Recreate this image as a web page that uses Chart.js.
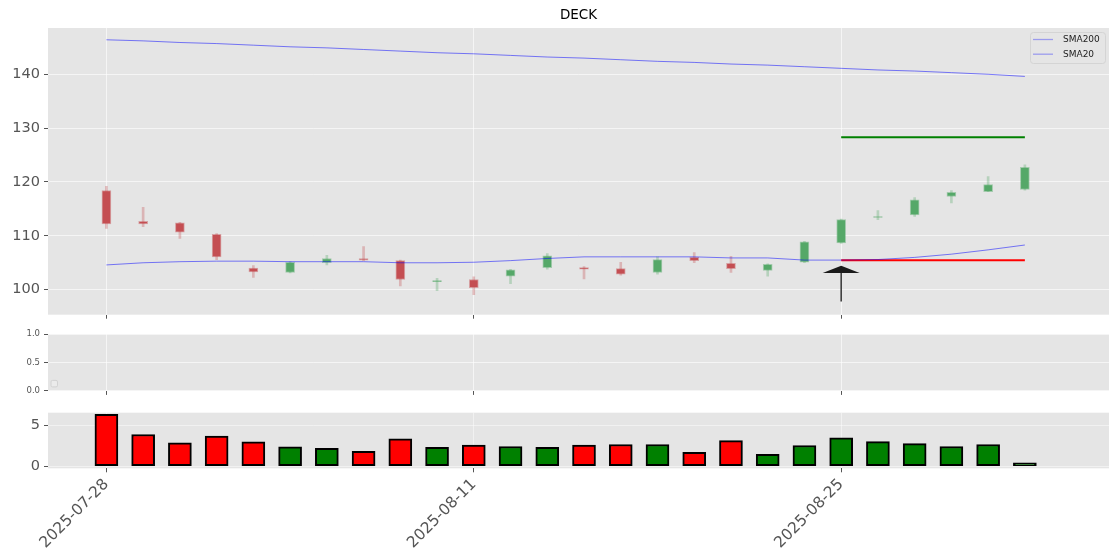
<!DOCTYPE html>
<html><head><meta charset="utf-8">
<script src="https://cdn.jsdelivr.net/npm/chart.js@4.4.1/dist/chart.umd.min.js"></script>
<style>
html,body{margin:0;padding:0;background:#fff;width:1120px;height:560px;overflow:hidden;}
canvas{position:absolute;left:0;}
</style></head><body>
<canvas id="main" width="1120" height="330" style="top:0px"></canvas>
<canvas id="mid" width="1120" height="75" style="top:325px"></canvas>
<canvas id="vol" width="1120" height="160" style="top:400px"></canvas>
<script>
const titleText = 'DECK';
const dates = ['2025-07-28','2025-07-29','2025-07-30','2025-07-31','2025-08-01','2025-08-04','2025-08-05','2025-08-06','2025-08-07','2025-08-08','2025-08-11','2025-08-12','2025-08-13','2025-08-14','2025-08-15','2025-08-18','2025-08-19','2025-08-20','2025-08-21','2025-08-22','2025-08-25','2025-08-26','2025-08-27','2025-08-28','2025-08-29','2025-09-02'];
const openP  = [118.4,112.7,112.4,110.3,104.0,103.2,105.0,105.8,105.4,101.5,101.9,102.5,104.1,104.1,103.9,103.2,106.0,104.9,103.6,105.1,108.7,113.4,113.9,117.3,118.2,118.6];
const highP  = [119.2,115.3,112.5,110.4,104.5,105.2,106.4,108.0,105.5,102.1,102.4,103.8,106.7,104.3,105.1,106.1,106.9,106.2,104.8,109.0,113.1,114.7,117.1,118.4,121.0,123.2];
const lowP   = [111.4,111.7,109.5,105.6,102.3,103.1,104.6,105.4,100.7,99.8,99.1,101.1,103.8,102.0,102.7,102.9,105.0,103.2,102.5,105.0,108.6,113.0,113.6,116.1,118.2,118.5];
const closeP = [112.2,112.2,110.7,106.1,103.3,105.1,105.8,105.5,101.9,101.7,100.4,103.7,106.3,103.8,102.9,105.6,105.4,103.9,104.7,108.9,113.0,113.6,116.7,118.1,119.5,122.7];
const sma200 = [146.4,146.2,145.9,145.7,145.4,145.1,144.9,144.6,144.3,144.0,143.8,143.5,143.2,143.0,142.7,142.4,142.2,141.9,141.7,141.4,141.1,140.8,140.6,140.3,140.0,139.6];
const sma20  = [104.6,105.0,105.2,105.3,105.3,105.2,105.2,105.2,105.0,105.0,105.1,105.4,105.8,106.1,106.1,106.1,106.1,105.9,105.9,105.5,105.5,105.6,106.0,106.6,107.4,108.3];
const volume = [6.39,3.89,2.86,3.69,2.98,2.38,2.18,1.82,3.37,2.30,2.58,2.42,2.30,2.58,2.66,2.66,1.70,3.13,1.46,2.54,3.49,3.01,2.77,2.42,2.66,0.39];
const targetLevel = 128.3;
const stopLevel = 105.45;
const signalStart = 20;
const signalEnd = 25;
const arrowIdx = 20;
const arrowTip = 104.45;
const arrowTail = 97.8;
const xTickIdx = [0,10,20];
const mainTicks = [100,110,120,130,140];
const midTicks = [0,0.5,1];
const volTicks = [0,5];

const FONT = 'DejaVu Sans';
const X_MIN = -1.59, X_MAX = 27.29;
const GRID = 'rgba(255,255,255,0.6)';
const up = openP.map((o,i)=>closeP[i] >= o);

function xScale(showLabels, height, gridColor){
  return {
    type:'linear', min:X_MIN, max:X_MAX, offset:false,
    afterBuildTicks: ax => { ax.ticks = xTickIdx.map(v=>({value:v})); },
    afterFit: ax => { ax.height = height; },
    grid:{offset:false, color:gridColor, lineWidth:1, tickColor:'#555', tickLength:4, drawTicks:true},
    border:{display:false},
    ticks:{display:showLabels, autoSkip:false, maxRotation:45, minRotation:45, color:'#555',
      font:{family:FONT, size:15.5}, padding:3, callback:(v)=> (dates[v] !== undefined ? dates[v] : '')}
  };
}
function yScale(min,max,ticks,fontSize,gridColor,fmt){
  return {
    type:'linear', min, max,
    afterBuildTicks: ax => { ax.ticks = ticks.map(v=>({value:v})); },
    afterFit: ax => { ax.width = 48; },
    grid:{color:gridColor, lineWidth:1, tickColor:'#555', tickLength:4, drawTicks:true},
    border:{display:false},
    ticks:{color:'#555', font:{family:FONT, size:fontSize}, padding:4, callback:fmt}
  };
}
const bgPlugin = {id:'bg', beforeDraw(c){
  const a=c.chartArea, ctx=c.ctx; ctx.save(); ctx.fillStyle='#e5e5e5';
  ctx.fillRect(a.left,a.top,a.right-a.left,a.bottom-a.top); ctx.restore();
}};
function roundRect(ctx,x,y,w,h,r){
  ctx.beginPath(); ctx.moveTo(x+r,y); ctx.lineTo(x+w-r,y); ctx.arcTo(x+w,y,x+w,y+r,r);
  ctx.lineTo(x+w,y+h-r); ctx.arcTo(x+w,y+h,x+w-r,y+h,r); ctx.lineTo(x+r,y+h);
  ctx.arcTo(x,y+h,x,y+h-r,r); ctx.lineTo(x,y+r); ctx.arcTo(x,y,x+r,y,r); ctx.closePath();
}
const legendPlugin = {id:'smaLegend', afterDraw(c){
  const a=c.chartArea, ctx=c.ctx;
  const items = c.data.datasets.filter(d=>d.inLegend);
  const x1=a.right-79, y1=a.top+4, w=75, h=31;
  ctx.save();
  roundRect(ctx,x1+0.5,y1+0.5,w,h,3);
  ctx.fillStyle='rgba(229,229,229,0.8)'; ctx.fill();
  ctx.strokeStyle='#d4d4d4'; ctx.lineWidth=1; ctx.stroke();
  items.forEach((d,k)=>{
    const yy = y1+7.5+k*14.7;
    ctx.strokeStyle=d.legendColor; ctx.lineWidth=1.3;
    ctx.beginPath(); ctx.moveTo(x1+3,yy); ctx.lineTo(x1+23,yy); ctx.stroke();
    ctx.fillStyle='#222'; ctx.font='9px "'+FONT+'"'; ctx.textBaseline='middle'; ctx.textAlign='left';
    ctx.fillText(d.label, x1+33, yy);
  });
  ctx.restore();
}};
const arrowPlugin = {id:'arrow', afterDatasetsDraw(c){
  const xs=c.scales.x, ys=c.scales.y, ctx=c.ctx;
  const x=xs.getPixelForValue(arrowIdx), yt=ys.getPixelForValue(arrowTip), yb=ys.getPixelForValue(arrowTail);
  ctx.save();
  ctx.strokeStyle='#333'; ctx.lineWidth=1.5;
  ctx.beginPath(); ctx.moveTo(x,yt+6); ctx.lineTo(x,yb); ctx.stroke();
  ctx.fillStyle='#1a1a1a';
  ctx.beginPath(); ctx.moveTo(x,yt); ctx.lineTo(x+18.5,yt+7.3); ctx.lineTo(x-18.5,yt+7.3); ctx.closePath(); ctx.fill();
  ctx.restore();
}};
const emptyLegendPlugin = {id:'emptyLegend', afterDraw(c){
  const a=c.chartArea, ctx=c.ctx; ctx.save();
  roundRect(ctx,a.left+3,a.bottom-10.5,6.5,6.5,1.5);
  ctx.fillStyle='rgba(235,235,235,0.9)'; ctx.fill(); ctx.strokeStyle='#d2d2d2'; ctx.lineWidth=1; ctx.stroke();
  ctx.restore();
}};

const common = {responsive:false, animation:false, devicePixelRatio:1,
  plugins:{legend:{display:false}, tooltip:{enabled:false}}};

new Chart(document.getElementById('main'), {
  type:'bar',
  data:{datasets:[
    {type:'bar', label:'wick', data:lowP.map((l,i)=>({x:i,y:[l,highP[i]]})),
      backgroundColor:up.map(u=>u?'rgba(85,168,104,0.32)':'rgba(196,78,82,0.32)'),
      barThickness:2, grouped:false, order:6},
    {type:'bar', label:'body', data:openP.map((o,i)=>({x:i,y:[o,closeP[i]]})),
      backgroundColor:up.map(u=>u?'#55a868':'#c44e52'),
      borderColor:up.map(u=>u?'rgba(85,168,104,0.45)':'rgba(196,78,82,0.45)'),
      borderWidth:1, borderSkipped:false, barThickness:9, grouped:false, order:5},
    {type:'line', label:'SMA200', inLegend:true, legendColor:'rgba(0,0,255,0.32)',
      data:sma200.map((v,i)=>({x:i,y:v})), borderColor:'rgba(0,0,255,0.5)', borderWidth:1, pointRadius:0, order:2},
    {type:'line', label:'SMA20', inLegend:true, legendColor:'rgba(0,0,255,0.32)',
      data:sma20.map((v,i)=>({x:i,y:v})), borderColor:'rgba(0,0,255,0.5)', borderWidth:1, pointRadius:0, order:1},
    {type:'line', label:'target', data:[{x:signalStart,y:targetLevel},{x:signalEnd,y:targetLevel}],
      borderColor:'#008000', borderWidth:2, pointRadius:0, order:3},
    {type:'line', label:'stop', data:[{x:signalStart,y:stopLevel},{x:signalEnd,y:stopLevel}],
      borderColor:'#ff0000', borderWidth:2, pointRadius:0, order:3}
  ]},
  options:Object.assign({}, common, {
    layout:{padding:{top:0,right:11,left:0,bottom:0}},
    plugins:{legend:{display:false}, tooltip:{enabled:false},
      title:{display:true, text:titleText, fullSize:false, color:'#000',
        font:{family:FONT, size:13.5, weight:'normal'}, padding:{top:7.8,bottom:4}}},
    scales:{
      x:xScale(false, 15.3, GRID),
      y:yScale(95.36,148.59,mainTicks,14.5,GRID,v=>String(v))
    }
  }),
  plugins:[bgPlugin, arrowPlugin, legendPlugin]
});

new Chart(document.getElementById('mid'), {
  type:'line',
  data:{datasets:[]},
  options:Object.assign({}, common, {
    layout:{padding:{top:9,right:11,left:0,bottom:0}},
    scales:{
      x:xScale(false, 8, GRID),
      y:yScale(0,1,midTicks,8.5,GRID,v=>Number(v).toFixed(1))
    }
  }),
  plugins:[bgPlugin, emptyLegendPlugin]
});

new Chart(document.getElementById('vol'), {
  type:'bar',
  data:{datasets:[
    {type:'bar', label:'Volume', data:volume.map((v,i)=>({x:i,y:v})),
      backgroundColor:up.map(u=>u?'#008000':'#ff0000'), borderColor:'#000', borderWidth:2,
      borderSkipped:false, barThickness:23, grouped:false}
  ]},
  options:Object.assign({}, common, {
    layout:{padding:{top:10.7,right:11,left:0,bottom:0}},
    scales:{
      x:xScale(true, 91.7, 'rgba(255,255,255,0.45)'),
      y:yScale(-0.27,6.58,volTicks,14.5,'rgba(255,255,255,0.45)',v=>String(v))
    }
  }),
  plugins:[bgPlugin]
});
</script>
</body></html>
